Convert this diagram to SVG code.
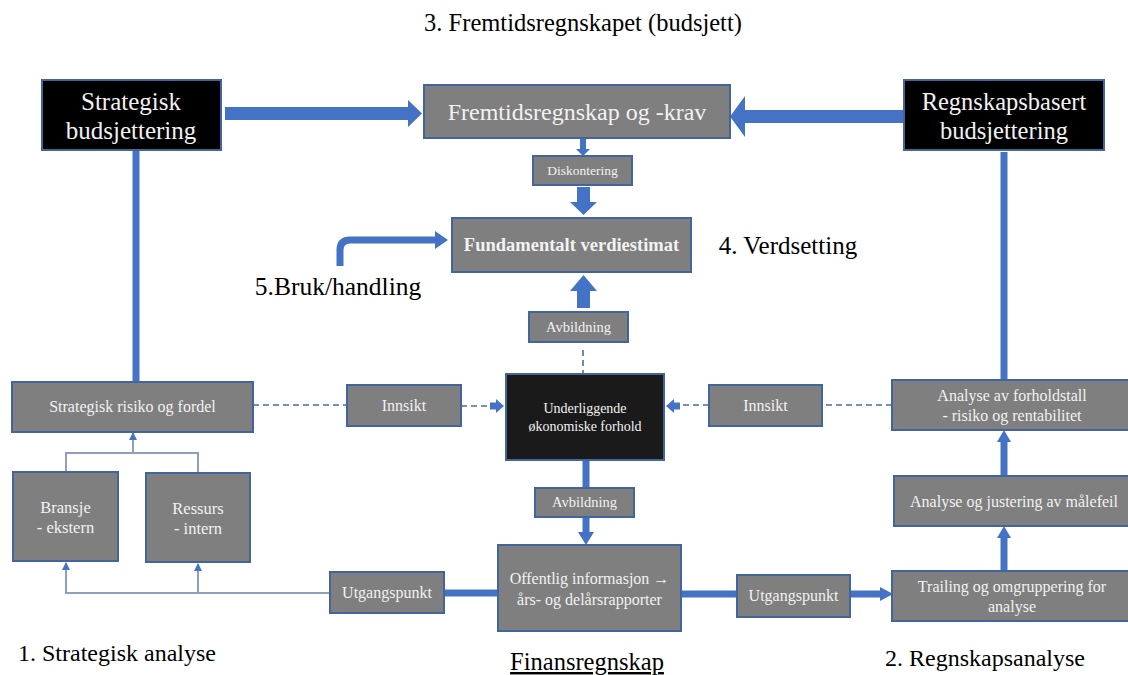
<svg xmlns="http://www.w3.org/2000/svg" width="1128" height="675" viewBox="0 0 1128 675">
<style>
.g{fill:#7f7f7f;stroke:#41659c;stroke-width:2}
.k{fill:#000;stroke:#41659c;stroke-width:2}
.d{fill:#1a1a1a;stroke:#41659c;stroke-width:2}
text{font-family:'Liberation Serif',Tinos,'Times New Roman','DejaVu Serif',serif;text-anchor:middle}
.w{fill:#f2f2f2}
.b{fill:#000}
.bl{fill:#4472c4}
.ln{stroke:#4472c4;stroke-width:7;fill:none}
.ds{stroke:#4a6ba8;stroke-width:1.6;stroke-dasharray:6 4;fill:none}
.th{stroke:#8fa0bf;stroke-width:2;fill:none}
</style>
<defs>
<marker id="ah" markerWidth="8" markerHeight="8" refX="7" refY="4" orient="auto" markerUnits="userSpaceOnUse">
<path d="M0,0 L8,4 L0,8 Z" fill="#4472c4"/>
</marker>
</defs>

<text x="583" y="31" font-size="24.5" class="b">3. Fremtidsregnskapet (budsjett)</text>
<text x="788" y="254" font-size="25" class="b">4. Verdsetting</text>
<text x="338" y="295" font-size="25.5" class="b">5.Bruk/handling</text>
<text x="117" y="661" font-size="24" class="b">1. Strategisk analyse</text>
<text x="587" y="670" font-size="24.5" class="b" text-decoration="underline">Finansregnskap</text>
<text x="985" y="666" font-size="24" class="b">2. Regnskapsanalyse</text>

<g id="connectors">
<polygon class="bl" points="225,107 408,107 408,100 422,113.5 408,127 408,120 225,120"/>
<polygon class="bl" points="904,110 745,110 745,96 730,116.5 745,137 745,123 904,123"/>
<polygon class="bl" points="580,139 586,139 586,149 590,149 583,156 576,149 580,149"/>
<polygon class="bl" points="577,187 590,187 590,202 597,202 583.5,215 570,202 577,202"/>
<polygon class="bl" points="577,308 590,308 590,291 597,291 583.5,275 570,291 577,291"/>
<path class="ln" d="M340,266 V250 Q340,240 350,240 H436"/>
<polygon class="bl" points="435,231 448,240 435,249"/>
<line class="ln" x1="136" y1="150" x2="136" y2="382"/>
<line class="ln" x1="1004" y1="152" x2="1004" y2="380"/>
<line class="ln" x1="586" y1="460" x2="586" y2="488"/>
<line class="ln" x1="586" y1="517" x2="586" y2="533"/>
<polygon class="bl" points="578,532 594,532 586,545"/>
<line class="ln" x1="444" y1="593" x2="499" y2="593"/>
<line class="ln" x1="681" y1="594" x2="737" y2="594"/>
<line class="ln" x1="850" y1="594" x2="882" y2="594"/>
<polygon class="bl" points="880,587 893,594 880,601"/>
<line class="ln" x1="1004" y1="571" x2="1004" y2="537"/>
<polygon class="bl" points="997,538 1004,526 1011,538"/>
<line class="ln" x1="1004" y1="476" x2="1004" y2="441"/>
<polygon class="bl" points="997,442 1004,430 1011,442"/>
<line class="ds" x1="253" y1="405" x2="347" y2="405"/>
<line class="ds" x1="461" y1="406" x2="490" y2="406" stroke-dasharray="8 4 2 4"/>
<polygon class="bl" points="490,402.5 496,402.5 496,399 504,406 496,413 496,409.5 490,409.5"/>
<line class="ds" x1="583" y1="350" x2="583" y2="374"/>
<line class="ds" x1="892" y1="405" x2="822" y2="405"/>
<line class="ds" x1="709" y1="405" x2="680" y2="405"/>
<polygon class="bl" points="680,402.5 674,402.5 674,399 666,406 674,413 674,409.5 680,409.5"/>
<polyline class="th" points="66,472 66,453 198,453 198,473"/>
<line class="th" x1="133" y1="453" x2="133" y2="433" marker-end="url(#ah)"/>
<polyline class="th" points="330,593 66,593 66,563" marker-end="url(#ah)"/>
<line class="th" x1="198" y1="593" x2="198" y2="564" marker-end="url(#ah)"/>
</g>

<g id="strategisk-budsjettering">
<rect class="k" x="42" y="80" width="179" height="70"/>
<text class="w" x="131" y="110" font-size="25">Strategisk</text>
<text class="w" x="131" y="139" font-size="25">budsjettering</text>
</g>
<g id="fremtidsregnskap">
<rect class="g" x="424" y="85" width="306" height="53"/>
<text class="w" x="577" y="120" font-size="24">Fremtidsregnskap og -krav</text>
</g>
<g id="regnskapsbasert-budsjettering">
<rect class="k" x="904" y="80" width="200" height="70"/>
<text class="w" x="1004" y="110" font-size="24.5">Regnskapsbasert</text>
<text class="w" x="1004" y="139" font-size="24.5">budsjettering</text>
</g>
<g id="diskontering">
<rect class="g" x="533" y="156" width="99" height="29"/>
<text class="w" x="582.5" y="175" font-size="13.5">Diskontering</text>
</g>
<g id="fundamentalt">
<rect class="g" x="452" y="218" width="239" height="54"/>
<text class="w" x="571.5" y="251" font-size="18.5" font-weight="bold">Fundamentalt verdiestimat</text>
</g>
<g id="avbildning-top">
<rect class="g" x="529" y="312" width="99" height="30"/>
<text class="w" x="578.5" y="332" font-size="14.5">Avbildning</text>
</g>
<g id="strategisk-risiko">
<rect class="g" x="12" y="382" width="241" height="50"/>
<text class="w" x="132.5" y="412" font-size="16">Strategisk risiko og fordel</text>
</g>
<g id="innsikt-left">
<rect class="g" x="347" y="385" width="114" height="41"/>
<text class="w" x="404" y="411" font-size="16">Innsikt</text>
</g>
<g id="underliggende">
<rect class="d" x="506" y="374" width="158" height="86"/>
<text class="w" x="585" y="413" font-size="14">Underliggende</text>
<text class="w" x="585" y="431" font-size="14">økonomiske forhold</text>
</g>
<g id="innsikt-right">
<rect class="g" x="709" y="385" width="113" height="41"/>
<text class="w" x="765.5" y="411" font-size="16">Innsikt</text>
</g>
<g id="analyse-forholdstall">
<rect class="g" x="892" y="380" width="238" height="50"/>
<text class="w" x="1012" y="401" font-size="16">Analyse av forholdstall</text>
<text class="w" x="1012" y="421" font-size="16">- risiko og rentabilitet</text>
</g>
<g id="bransje">
<rect class="g" x="13" y="472" width="105" height="89"/>
<text class="w" x="65.5" y="513" font-size="16.5">Bransje</text>
<text class="w" x="65.5" y="533" font-size="16.5">- ekstern</text>
</g>
<g id="ressurs">
<rect class="g" x="146" y="473" width="104" height="89"/>
<text class="w" x="198" y="514" font-size="16.5">Ressurs</text>
<text class="w" x="198" y="534" font-size="16.5">- intern</text>
</g>
<g id="avbildning-bottom">
<rect class="g" x="535" y="488" width="99" height="29"/>
<text class="w" x="584.5" y="507" font-size="14.5">Avbildning</text>
</g>
<g id="analyse-justering">
<rect class="g" x="894" y="476" width="236" height="50"/>
<text class="w" x="1014" y="507" font-size="16">Analyse og justering av målefeil</text>
</g>
<g id="utgangspunkt-left">
<rect class="g" x="330" y="572" width="114" height="41"/>
<text class="w" x="387" y="598" font-size="16">Utgangspunkt</text>
</g>
<g id="offentlig">
<rect class="g" x="498" y="545" width="183" height="86"/>
<text class="w" x="589.5" y="584" font-size="16">Offentlig informasjon →</text>
<text class="w" x="589.5" y="605" font-size="16">års- og delårsrapporter</text>
</g>
<g id="utgangspunkt-right">
<rect class="g" x="737" y="575" width="113" height="42"/>
<text class="w" x="793.5" y="601" font-size="16">Utgangspunkt</text>
</g>
<g id="trailing">
<rect class="g" x="892" y="571" width="238" height="50"/>
<text class="w" x="1012" y="592" font-size="16">Trailing  og omgruppering for</text>
<text class="w" x="1012" y="612" font-size="16">analyse</text>
</g>
</svg>
